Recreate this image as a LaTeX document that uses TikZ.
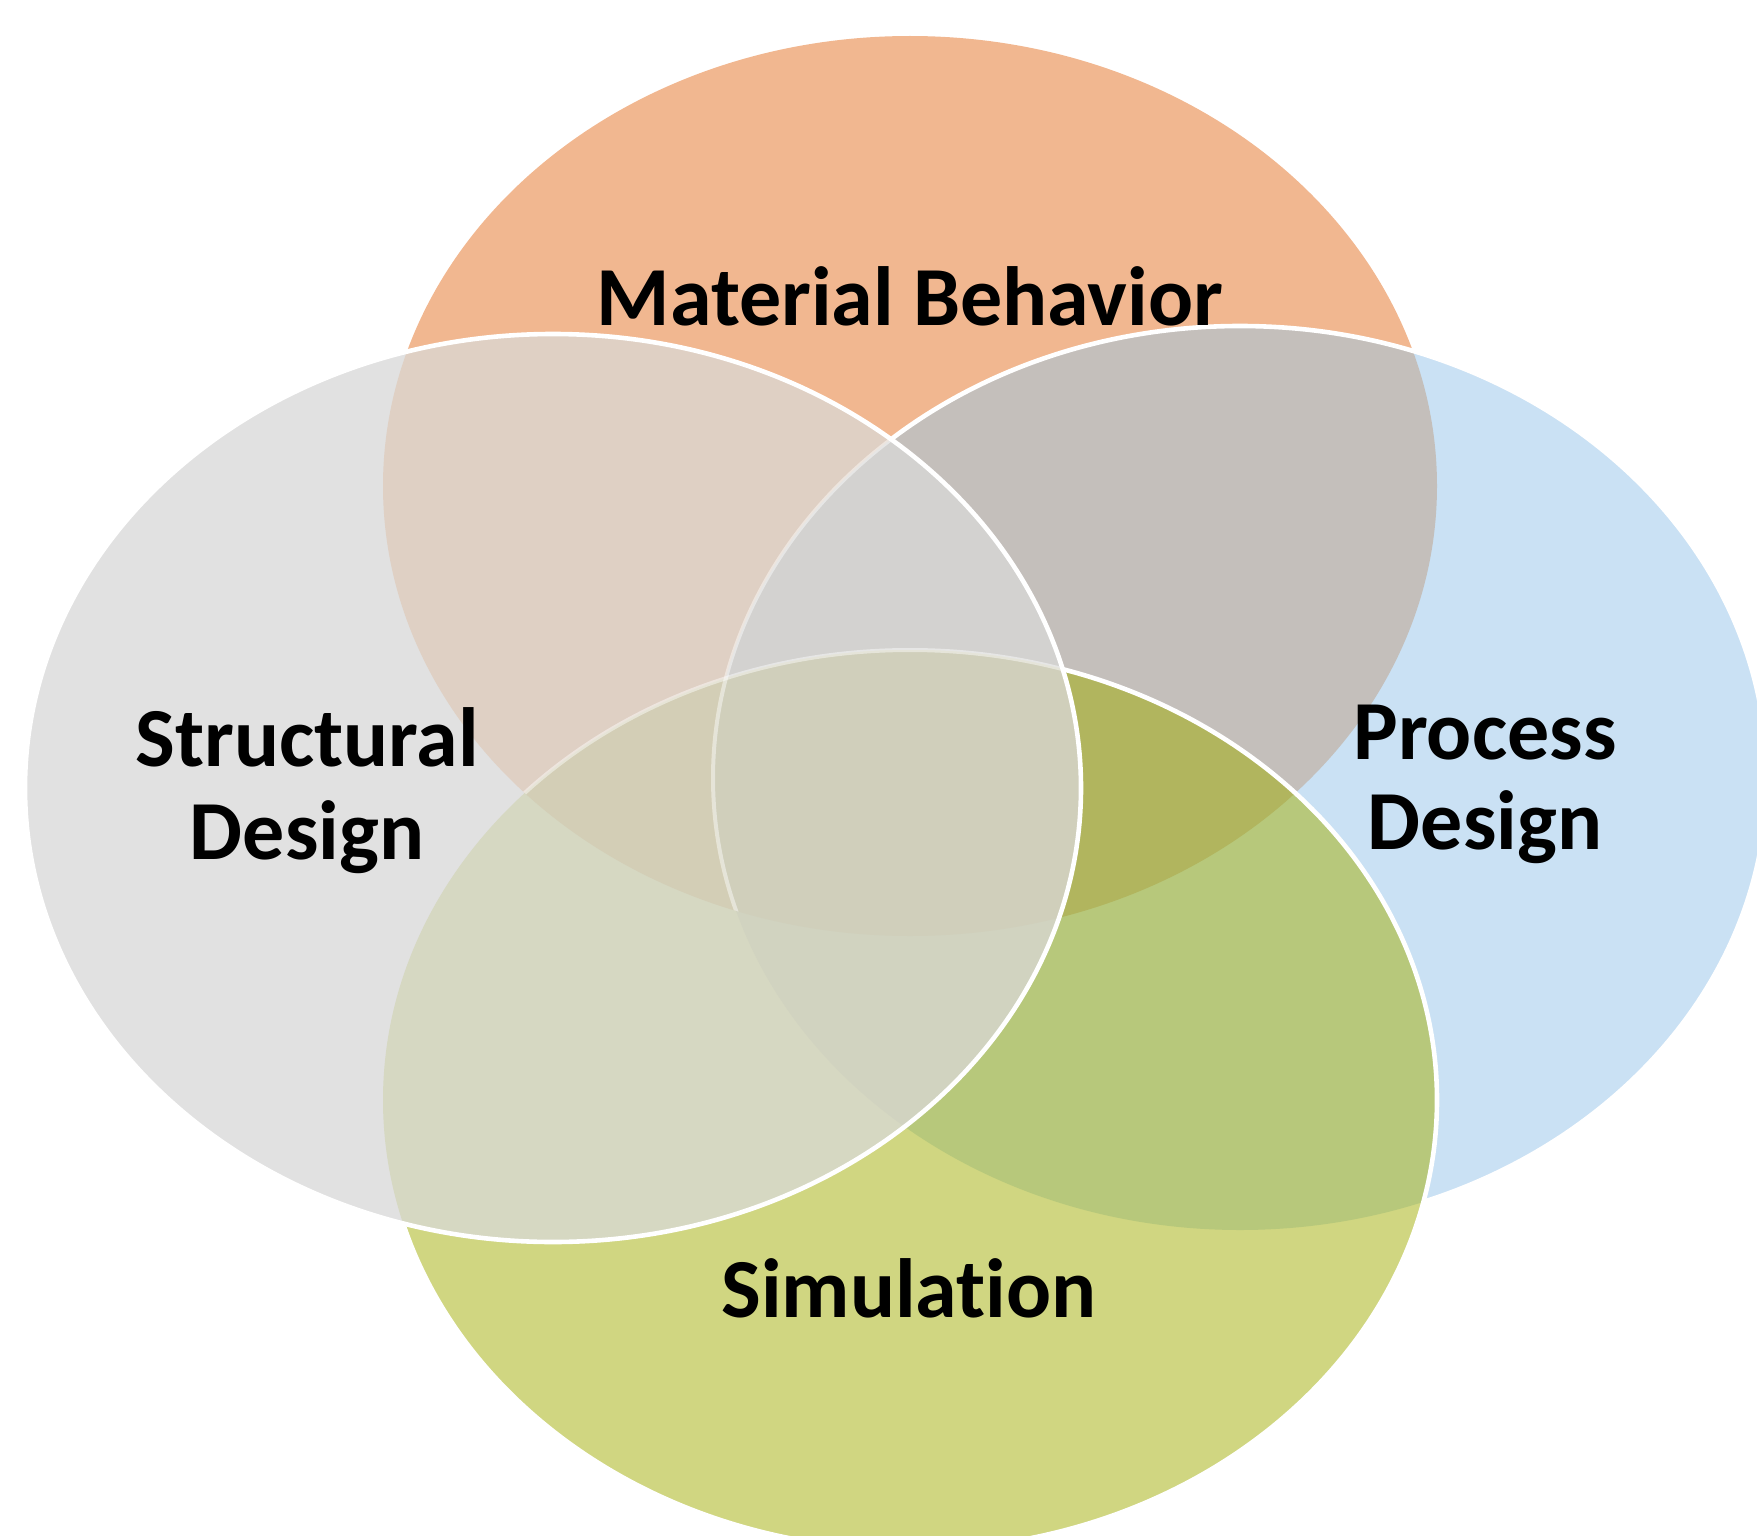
\documentclass[tikz,border=0pt]{standalone}
\usepackage{fontspec}
\setmainfont{Carlito}[Ligatures={NoCommon,NoRare,NoDiscretionary}]
\definecolor{cO}{HTML}{F1B790}
\definecolor{cY}{HTML}{E1E1E1}
\definecolor{cB}{HTML}{CAE1F4}
\definecolor{cG}{HTML}{D0D681}
\definecolor{cOY}{HTML}{DFD0C4}
\definecolor{cOB}{HTML}{C4BFBB}
\definecolor{cOG}{HTML}{C8C08A}
\definecolor{cBG}{HTML}{B7C87B}
\definecolor{cYB}{HTML}{D3D2D0}
\definecolor{cYG}{HTML}{D6D8C2}
\definecolor{cOYB}{HTML}{D3D2D0}
\definecolor{cOYG}{HTML}{D3CEB6}
\definecolor{cOBG}{HTML}{B1B55E}
\definecolor{cYBG}{HTML}{D1D3C0}
\definecolor{cOYBG}{HTML}{D0CFBB}
\def\EO{(910,486) ellipse [x radius=527, y radius=450]}
\def\EB{(1240,778) ellipse [x radius=527, y radius=452]}
\def\EG{(910,1100) ellipse [x radius=527, y radius=450]}
\def\EY{(553,788) ellipse [x radius=528, y radius=454]}
\newcommand\paintregions{%
  \fill[cO] \EO; \fill[cB] \EB; \fill[cG] \EG; \fill[cY] \EY;
  \begin{scope}\clip \EO; \fill[cOB] \EB; \fill[cOG] \EG; \fill[cOY] \EY; \end{scope}
  \begin{scope}\clip \EB; \fill[cBG] \EG; \fill[cYB] \EY; \end{scope}
  \begin{scope}\clip \EG; \fill[cYG] \EY; \end{scope}
  \begin{scope}\clip \EO; \clip \EB; \fill[cOBG] \EG; \fill[cOYB] \EY; \end{scope}
  \begin{scope}\clip \EO; \clip \EG; \fill[cOYG] \EY; \end{scope}
  \begin{scope}\clip \EB; \clip \EG; \fill[cYBG] \EY; \end{scope}
  \begin{scope}\clip \EO; \clip \EB; \clip \EG; \fill[cOYBG] \EY; \end{scope}%
}
\begin{document}
\begin{tikzpicture}[x=0.5pt,y=-0.5pt,
  ol/.style={draw=white, line width=2.3pt},
  faint/.style={draw=white, draw opacity=0.45, line width=2pt},
  lbl/.style={font=\fontsize{42}{46}\selectfont\bfseries, text=black, inner sep=0pt, anchor=base}]
\useasboundingbox (0,0) rectangle (1757,1536);
\begin{scope}
\clip (0,0) rectangle (1757,1536);
\paintregions
\draw[ol] \EB;
\begin{scope}\clip \EG; \paintregions \end{scope}
\draw[ol] \EG;
\begin{scope}\clip \EY; \paintregions \end{scope}
\begin{scope}\clip \EY; \clip \EO; \draw[faint] \EB; \draw[faint] \EG; \end{scope}
\draw[ol] \EY;
\end{scope}
\node[lbl] (mb) at (910,325) {Material Behavior};
\node[lbl] (sd1) at (307,766) {Structural};
\node[lbl] (sd2) at (307,859) {Design};
\node[lbl] (pd1) at (1485,759) {Process};
\node[lbl] (pd2) at (1485,849) {Design};
\node[lbl] (sim) at (909,1317) {Simulation};
\end{tikzpicture}
\end{document}
